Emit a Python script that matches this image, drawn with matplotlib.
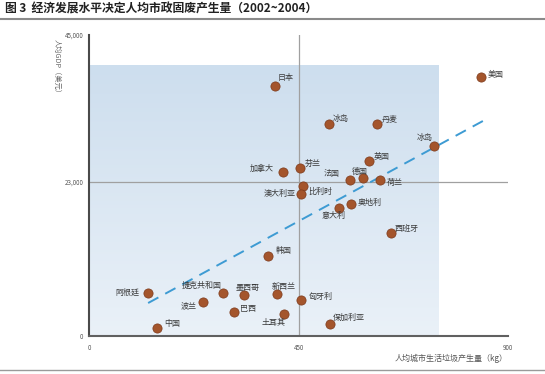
import matplotlib
matplotlib.use("Agg")
import matplotlib.pyplot as plt
import numpy as np
from matplotlib.lines import Line2D
from matplotlib.colors import LinearSegmentedColormap

plt.rcParams['font.family'] = ['Noto Sans CJK SC', 'DejaVu Sans']

# ---- data ----
countries = ['日本', '美国', '冰岛', '丹麦', '冰岛', '英国', '芬兰', '法国', '德国', '荷兰',
             '比利时', '澳大利亚', '加拿大', '韩国', '阿根廷', '捷克共和国', '墨西哥', '新西兰',
             '匈牙利', '波兰', '巴西', '土耳其', '中国', '奥地利', '意大利', '西班牙', '保加利亚']
waste_kg = [400, 843, 515, 618, 740, 601, 454, 560, 588, 626,
            460, 456, 417, 385, 126, 288, 333, 403,
            455, 245, 312, 418, 146, 563, 537, 648, 518]
gdp_usd = [37400, 38700, 31700, 31700, 28450, 26100, 25100, 23300, 23600, 23300,
           22500, 21300, 24500, 11950, 6400, 6470, 6170, 6280,
           5410, 5080, 3540, 3240, 1240, 19730, 19090, 15350, 1840]
trend_x = [127, 846]
trend_y = [4930, 32140]
x_ticks = [0, 450, 900]
x_tick_labels = ['0', '450', '900']
y_ticks = [0, 23000, 45000]
y_tick_labels = ['0', '23,000', '45,000']
shade_x = [0, 750]
shade_y = [0, 40400]
title = '图 3  经济发展水平决定人均市政固废产生量（2002~2004）'
x_label = '人均城市生活垃圾产生量（kg）'
y_label = '人均GDP（美元）'

# label offsets in pixels (dx right, dy up)
label_offsets = [(10, 8), (14, 3), (12, 5), (13.5, 4), (-8.5, 8), (13, 5), (12.5, 5), (-18, 7),
                 (-3, 7), (14, -2), (17.5, -6), (-22, 0), (-21, 4), (15, 6), (-20, 1), (-21.7, 7),
                 (4, 7.5), (6.7, 7), (20, 3), (-14, -4), (14, 4), (-10, -8), (15, 4), (19, 2),
                 (-5, -7), (15.5, 5), (19, 6)]

W, H = 545, 374
fig = plt.figure(figsize=(W / 100, H / 100), dpi=100)
fig.patch.set_facecolor('white')
ax = fig.add_axes([89 / W, 38 / H, 419 / W, 301 / H])
ax.set_facecolor('none')

# gradient shaded rectangle
cmap = LinearSegmentedColormap.from_list('shade', ['#eaf1f8', '#cddeee'])
grad = np.linspace(0, 1, 256).reshape(-1, 1)
ax.imshow(grad, extent=[shade_x[0], shade_x[1], shade_y[0], shade_y[1]], origin='lower',
          aspect='auto', cmap=cmap, zorder=0)

ax.axhline(23000, color='#a0a0a0', lw=0.9, zorder=1)
ax.axvline(450, color='#a0a0a0', lw=0.9, zorder=1)

ax.plot(trend_x, trend_y, color='#3d9bd3', lw=1.4, ls=(0, (6, 4)), zorder=2)

ax.scatter(waste_kg, gdp_usd, s=44, color='#a4552c', edgecolors='#7d3a1b', linewidths=0.5, zorder=3)

for name, x, y, (dx, dy) in zip(countries, waste_kg, gdp_usd, label_offsets):
    ax.annotate(name, (x, y), xytext=(dx, dy), textcoords='offset pixels',
                ha='center', va='center', fontsize=5.8, color='#3a3a3a', zorder=4)

ax.set_xlim(0, 900)
ax.set_ylim(0, 45000)
for s in ['top', 'right']:
    ax.spines[s].set_visible(False)
ax.spines['left'].set_color('#4a4a4a')
ax.spines['left'].set_linewidth(1.5)
ax.spines['bottom'].set_color('#606060')
ax.spines['bottom'].set_linewidth(1.5)

ax.set_xticks(x_ticks)
ax.set_xticklabels(x_tick_labels)
ax.set_yticks(y_ticks)
ax.set_yticklabels(y_tick_labels)
ax.tick_params(axis='both', length=0, labelsize=4.5, labelcolor='#555555')
ax.tick_params(axis='x', pad=5.5)
ax.tick_params(axis='y', pad=4)

fig.text(508 / W, 1 - 358 / H, x_label, ha='right', va='center', fontsize=5.8, color='#555555')
fig.text(57 / W, 1 - 68 / H, y_label, rotation=-90, ha='center', va='center', fontsize=5.2,
         color='#666666')

fig.text(5 / W, 1 - 9 / H, title, ha='left', va='center', fontsize=8.5, fontweight='bold',
         color='#222222')
fig.add_artist(Line2D([0, 1], [1 - 18.5 / H] * 2, color='#8a8a8a', lw=1.5))
fig.add_artist(Line2D([0, 1], [1 - 370 / H] * 2, color='#9a9a9a', lw=1.0))

fig.savefig('out.png', dpi=100)
